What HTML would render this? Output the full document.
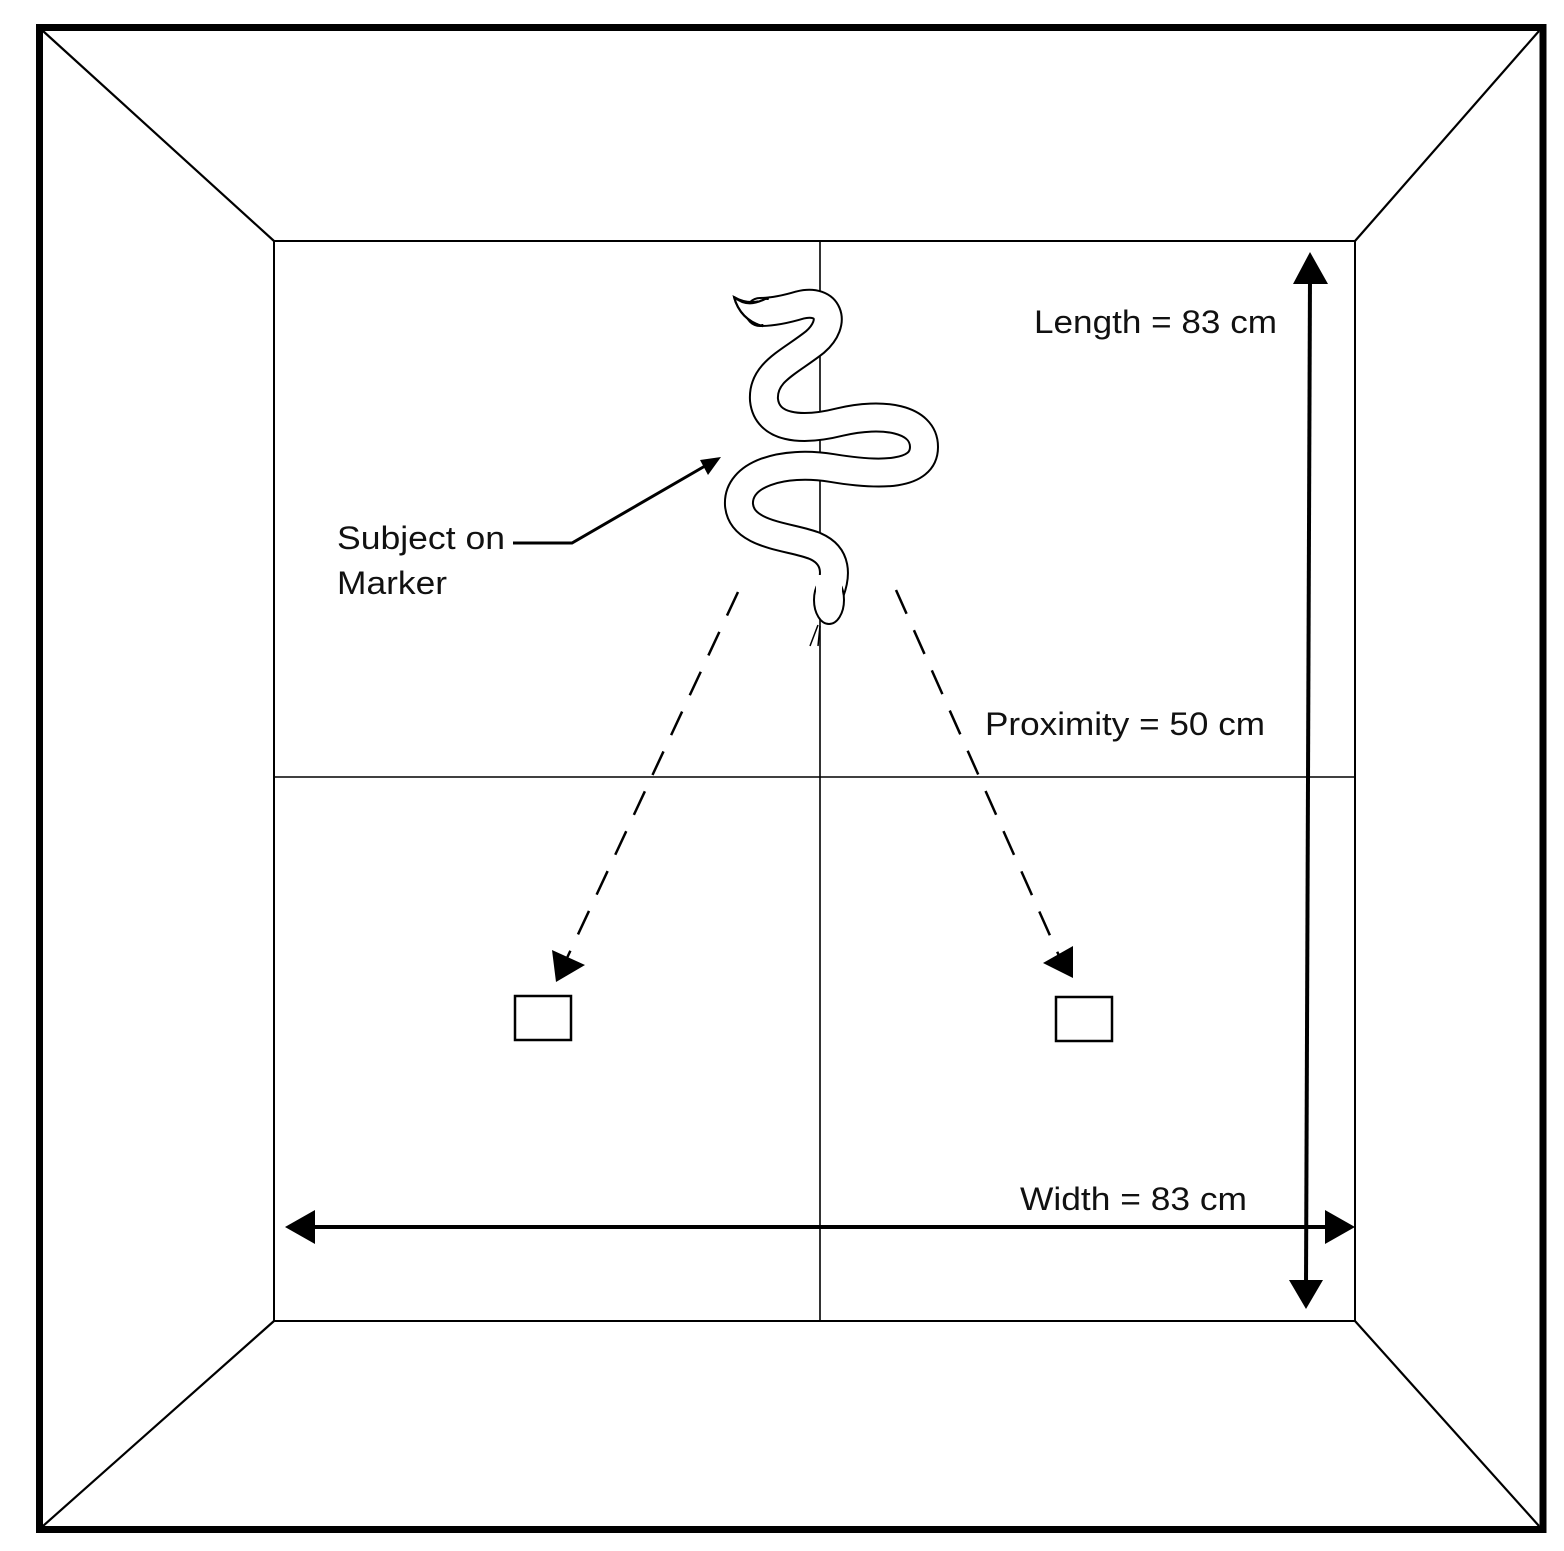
<!DOCTYPE html>
<html><head><meta charset="utf-8"><style>
html,body{margin:0;padding:0;background:#fff;}
svg{display:block;}
text{font-family:"Liberation Sans",sans-serif;font-size:32px;fill:#111;}
</style></head><body>
<svg width="1564" height="1551" viewBox="0 0 1564 1551" xmlns="http://www.w3.org/2000/svg">
<rect x="0" y="0" width="1564" height="1551" fill="#fff"/>
<rect x="39.5" y="27.5" width="1503.5" height="1502" fill="none" stroke="#000" stroke-width="7"/>
<g stroke="#000" stroke-width="2.2">
<line x1="43" y1="31" x2="274" y2="241"/>
<line x1="1539" y1="31" x2="1355" y2="241"/>
<line x1="43" y1="1526" x2="274" y2="1321"/>
<line x1="1539" y1="1526" x2="1355" y2="1321"/>
</g>
<rect x="274" y="241" width="1081" height="1080" fill="none" stroke="#000" stroke-width="2"/>
<line x1="820" y1="241" x2="820" y2="1321" stroke="#000" stroke-width="1.6"/>
<line x1="274" y1="777" x2="1355" y2="777" stroke="#000" stroke-width="1.6"/>
<!-- snake -->
<g fill="none" stroke-linecap="round" stroke-linejoin="round">
<path d="M760,312 C775,312 790,308 800,305 C828,298 838,322 815,342 C790,362 762,372 764,400 C767,428 800,432 840,422 C882,412 924,418 924,447 C924,476 880,476 832,468 C782,460 737,474 739,505 C742,536 790,536 815,546 C838,556 836,576 830,592" stroke="#000" stroke-width="30"/>
<path d="M760,312 C775,312 790,308 800,305 C828,298 838,322 815,342 C790,362 762,372 764,400 C767,428 800,432 840,422 C882,412 924,418 924,447 C924,476 880,476 832,468 C782,460 737,474 739,505 C742,536 790,536 815,546 C838,556 836,576 830,592" stroke="#fff" stroke-width="26"/>
</g>
<path d="M734,297 C738,312 748,322 762,326 L768,298 C760,302 748,305 734,297 Z" fill="#fff" stroke="#000" stroke-width="2"/>
<rect x="758" y="300" width="12" height="24" fill="#fff"/>
<path d="M734,297 C738,312 748,322 762,326" fill="none" stroke="#000" stroke-width="2.2"/>
<path d="M734,297 C745,306 755,304 765,299" fill="none" stroke="#000" stroke-width="2.2"/>
<ellipse cx="829" cy="600" rx="15" ry="24" fill="#fff" stroke="#000" stroke-width="2"/>
<rect x="816" y="575" width="26" height="20" fill="#fff"/>
<path d="M818,625 L810,646 M820,626 L818,646" stroke="#000" stroke-width="1.5" fill="none"/>
<polyline points="513,543 572,543 705,466" fill="none" stroke="#000" stroke-width="3"/>
<polygon points="721,457 700,460 708,475" fill="#000"/>
<g stroke="#000" stroke-width="2.5" stroke-dasharray="26,18" fill="none">
<line x1="738" y1="592" x2="567" y2="958"/>
<line x1="896" y1="590" x2="1060" y2="958"/>
</g>
<polygon points="556,982 552,950 585,965" fill="#000"/>
<polygon points="1073,978 1043,963 1073,946" fill="#000"/>
<rect x="515" y="996" width="56" height="44" fill="none" stroke="#000" stroke-width="2.5"/>
<rect x="1056" y="997" width="56" height="44" fill="none" stroke="#000" stroke-width="2.5"/>
<line x1="1310" y1="275" x2="1306" y2="1285" stroke="#000" stroke-width="4"/>
<polygon points="1310,252 1293,284 1328,284" fill="#000"/>
<polygon points="1306,1309 1289,1280 1323,1280" fill="#000"/>
<line x1="305" y1="1227" x2="1335" y2="1227" stroke="#000" stroke-width="4"/>
<polygon points="285,1227 315,1210 315,1244" fill="#000"/>
<polygon points="1355,1227 1325,1210 1325,1244" fill="#000"/>
<text x="1034" y="333" textLength="243" lengthAdjust="spacingAndGlyphs">Length = 83 cm</text>
<text x="985" y="735" textLength="280" lengthAdjust="spacingAndGlyphs">Proximity = 50 cm</text>
<text x="1020" y="1210" textLength="227" lengthAdjust="spacingAndGlyphs">Width = 83 cm</text>
<text x="337" y="549" textLength="168" lengthAdjust="spacingAndGlyphs">Subject on</text>
<text x="337" y="594" textLength="110" lengthAdjust="spacingAndGlyphs">Marker</text>
</svg>
</body></html>
